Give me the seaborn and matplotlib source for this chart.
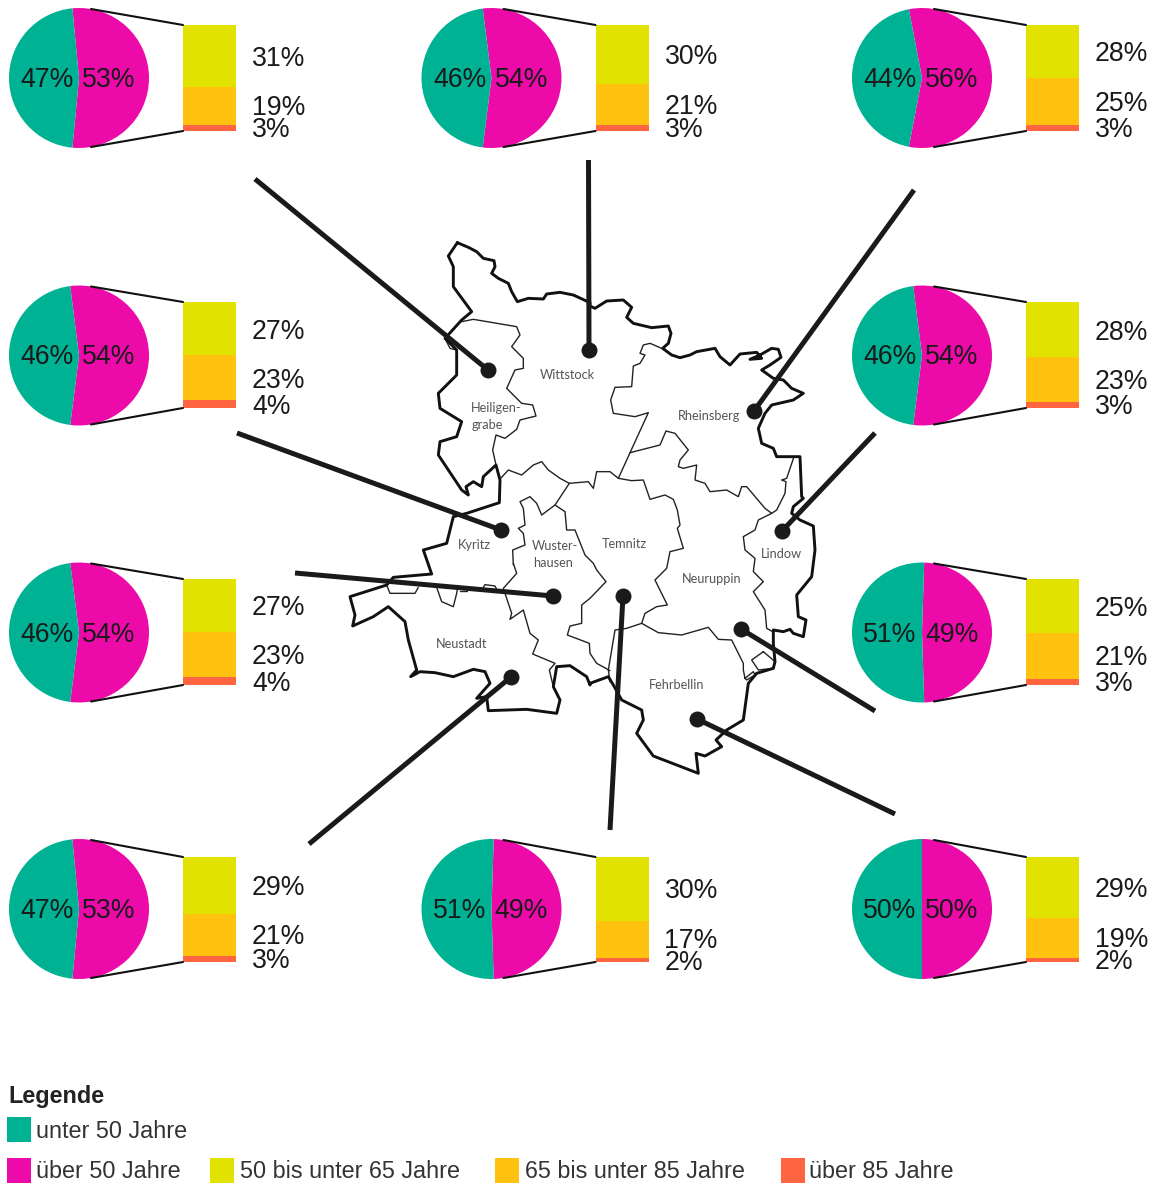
import matplotlib
matplotlib.use("Agg")
import matplotlib.pyplot as plt
from matplotlib.patches import Rectangle
import seaborn as sns

sns.set_theme(style="white")
plt.rcParams["font.family"] = ["Liberation Sans", "DejaVu Sans"]

W, H, DPI = 1154, 1184, 100

# Share of population per municipality, in percent
regions = ["Heiligengrabe", "Wittstock", "Rheinsberg",
           "Kyritz", "Lindow",
           "Wusterhausen", "Neuruppin",
           "Neustadt", "Temnitz", "Fehrbellin"]
under_50 = [47, 46, 44, 46, 46, 46, 51, 47, 51, 50]
over_50 = [53, 54, 56, 54, 54, 54, 49, 53, 49, 50]
age_50_65 = [31, 30, 28, 27, 28, 27, 25, 29, 30, 29]
age_65_85 = [19, 21, 25, 23, 23, 23, 21, 21, 17, 19]
age_85_up = [3, 3, 3, 4, 3, 4, 3, 3, 2, 2]

legend_labels = ["unter 50 Jahre", "über 50 Jahre", "50 bis unter 65 Jahre",
                 "65 bis unter 85 Jahre", "über 85 Jahre"]
colors = sns.color_palette(["#00B294", "#EC0AA8", "#E2E200", "#FFC20E", "#FF6540"])
TEAL, MAGENTA, YELLOW, ORANGE, RED = colors

# Panel layout: pie centre, vertical span of the bar, label rows
pie_centres = [(79, 78), (491.5, 78), (922, 78),
               (79, 355.5), (922, 355.5),
               (79, 632.5), (922, 632.5),
               (79, 909), (491.5, 909), (922, 909)]
bar_spans = [(25, 131), (25, 131), (25, 131),
             (302, 408), (302, 408),
             (579, 685), (579, 685),
             (857, 962), (857, 962), (857, 962)]
label_rows = [(57, 106, 128), (55, 105, 128), (52, 102, 128),
              (330, 379, 405), (331, 380, 405),
              (606, 655, 682), (607, 656, 682),
              (886, 935, 959), (889, 939, 961), (888, 938, 960)]

# Leader lines from each panel to its municipality
leaders = [((255, 179), (488, 370)), ((588.5, 160), (589, 350)), ((914, 190), (754, 411)),
           ((237, 433), (501, 530)), ((875, 433), (782, 531)),
           ((295, 573), (553, 596)), ((875, 711), (741, 629)),
           ((309, 844), (511, 677)), ((610, 830), (623, 596)), ((895, 814), (697, 719))]

place_labels = [("Wittstock", 567.5, 375), ("Heiligen-", 496, 408), ("grabe", 487, 425),
                ("Rheinsberg", 709, 416), ("Kyritz", 474, 545), ("Wuster-", 555, 546),
                ("hausen", 553.5, 563), ("Temnitz", 624.5, 544), ("Neuruppin", 712, 579),
                ("Lindow", 781, 554), ("Neustadt", 462, 644), ("Fehrbellin", 677, 685)]

# Map outlines, digitised at 3x on overlapping sheets
SHEET_A, SHEET_B, SHEET_C, SHEET_D = (340, 230), (590, 230), (340, 500), (590, 500)
SHEET_E = (490, 455)


def sheet(origin, pts):
    return [(origin[0] + x / 3, origin[1] + y / 3) for x, y in pts]


outer = (
    sheet(SHEET_A, [(352, 38), (385, 52), (410, 65), (430, 85), (462, 92), (465, 110), (455, 130),
                    (475, 145), (505, 160), (515, 185), (532, 215), (565, 205), (610, 207),
                    (620, 192), (660, 187), (700, 195), (750, 218)])
    + sheet(SHEET_B, [(0, 228), (15, 235), (50, 213), (100, 210), (125, 232), (110, 262), (130, 280),
                      (185, 293), (235, 288), (243, 310), (235, 340), (218, 355), (245, 375),
                      (270, 383), (300, 375), (320, 365), (375, 355), (390, 380), (420, 405),
                      (450, 372), (500, 367), (515, 385), (480, 388), (510, 375), (545, 355),
                      (565, 358), (573, 382), (540, 405), (515, 420), (550, 445), (580, 450),
                      (605, 475), (640, 490), (610, 510), (545, 525), (525, 550), (505, 595),
                      (515, 640), (550, 655), (560, 680), (630, 680), (635, 800), (640, 805),
                      (610, 830)])
    + sheet(SHEET_D, [(605, 40), (630, 60), (670, 78), (675, 150), (665, 230), (620, 285), (625, 350),
                      (648, 360), (640, 410), (610, 400), (600, 388), (580, 395), (550, 390),
                      (550, 430), (555, 485), (550, 505), (500, 520), (475, 550), (460, 660),
                      (410, 690), (378, 720), (395, 740), (345, 768), (318, 760), (325, 820),
                      (190, 768), (140, 700), (160, 660), (155, 630), (95, 600), (70, 555),
                      (55, 530), (0, 550)])
    + sheet(SHEET_C, [(750, 555), (740, 530), (690, 497), (650, 500), (640, 560), (660, 600),
                      (650, 640), (560, 628), (445, 632), (440, 590), (410, 595), (450, 550),
                      (435, 515), (400, 508), (340, 530), (285, 518), (240, 515), (212, 530),
                      (230, 510), (205, 420), (195, 365), (145, 320), (100, 350), (38, 378),
                      (45, 345), (30, 290), (140, 255), (160, 232), (275, 222), (250, 150),
                      (320, 130), (340, 50), (380, 40), (478, 8)])
    + sheet(SHEET_A, [(480, 750), (468, 705), (430, 740), (425, 770),
                      (400, 755), (378, 770), (385, 795), (365, 780), (295, 675), (300, 635),
                      (350, 620), (365, 575), (300, 535), (295, 490), (350, 435), (350, 360),
                      (315, 325), (365, 270), (395, 245), (340, 170), (340, 110), (325, 78),
                      (352, 38)])
)

inner = [
    # Heiligengrabe
    sheet(SHEET_A, [(365, 275), (400, 268), (530, 290), (540, 315), (515, 350), (550, 385), (550, 415),
                    (525, 420), (500, 475), (545, 520), (578, 525), (588, 558), (540, 570),
                    (530, 598), (495, 625), (468, 615), (458, 660), (468, 705)]),
    sheet(SHEET_A, [(315, 325), (330, 355), (350, 360)]),
    # Kyritz, Temnitz and Rheinsberg edges running east
    sheet(SHEET_E, [(32, 70), (55, 45), (95, 60), (130, 30), (155, 20), (175, 45), (210, 70), (238, 85),
                    (295, 80), (310, 100), (320, 50), (360, 50), (385, 70)])
    + sheet(SHEET_B, [(125, 752), (160, 750), (180, 808),
                      (225, 795), (250, 808), (262, 840)])
    + sheet(SHEET_D, [(270, 75), (262, 85), (280, 145), (240, 155), (230, 205), (195, 240), (232, 315),
                      (200, 320), (165, 340), (155, 370), (110, 385), (75, 390), (55, 510),
                      (60, 545)]),
    # Kyritz / Wusterhausen
    sheet(SHEET_E, [(70, 330), (68, 285), (105, 270), (100, 235), (85, 220), (105, 210), (100, 160),
                    (90, 140), (120, 125), (140, 145), (155, 180), (195, 150), (238, 85)]),
    sheet(SHEET_C, [(520, 190), (530, 220), (490, 265), (515, 340), (510, 358), (550, 330), (570, 400),
                    (595, 420), (578, 462), (645, 490), (628, 510), (640, 560)]),
    # Wusterhausen / Temnitz
    sheet(SHEET_E, [(195, 150), (225, 170), (230, 225), (255, 225), (285, 300), (310, 325)])
    + sheet(SHEET_D, [(20, 210), (48, 245), (0, 295)])
    + sheet(SHEET_C, [(725, 315), (725, 370), (690, 378), (682, 405), (748, 430)])
    + sheet(SHEET_D, [(0, 460), (20, 490), (60, 512)]),
    # Rheinsberg west and the straight diagonal
    sheet(SHEET_B, [(215, 355), (180, 340), (160, 345), (150, 370), (165, 375), (150, 400), (130, 408),
                    (125, 470), (75, 472), (62, 510), (70, 550), (135, 560), (175, 548), (85, 745)]),
    # Neuruppin north edge
    sheet(SHEET_B, [(120, 668), (210, 645), (228, 603), (255, 610), (295, 660), (270, 690), (265, 710),
                    (280, 715), (320, 705), (315, 750), (345, 760), (360, 785), (410, 780),
                    (445, 800), (455, 770), (470, 770), (525, 835)])
    + sheet(SHEET_D, [(545, 40), (505, 60), (495, 90), (460, 110), (465, 150), (495, 175), (490, 215),
                      (520, 245), (490, 275), (525, 330), (530, 385), (548, 395)]),
    sheet(SHEET_B, [(612, 680), (590, 745), (575, 750), (588, 755), (585, 790), (560, 840)])
    + sheet(SHEET_D, [(545, 40)]),
    # Neuruppin / Fehrbellin
    sheet(SHEET_D, [(155, 370), (205, 398), (275, 405), (355, 382), (385, 418), (425, 420), (460, 490),
                    (460, 510), (465, 535), (490, 515), (495, 525), (470, 540), (465, 535)]),
    sheet(SHEET_D, [(520, 455), (485, 480), (505, 510), (550, 505), (555, 485), (520, 455)]),
    # Small enclaves along the Kyritz / Neustadt edge
    sheet(SHEET_C, [(140, 255), (150, 280), (225, 280), (235, 262)]),
    sheet(SHEET_C, [(290, 262), (305, 305), (340, 320), (350, 280), (352, 268)]),
    sheet(SHEET_C, [(360, 272), (380, 272)]),
    sheet(SHEET_C, [(430, 262), (435, 254), (465, 258), (470, 268)]),
]

fig = plt.figure(figsize=(W / DPI, H / DPI), dpi=DPI, facecolor="white")
canvas = fig.add_axes([0, 0, 1, 1], zorder=5)
canvas.set_xlim(0, W)
canvas.set_ylim(H, 0)
canvas.axis("off")
canvas.patch.set_alpha(0)


def panel_axes(left, top, right, bottom):
    return fig.add_axes([left / W, 1 - bottom / H, (right - left) / W, (bottom - top) / H], zorder=1)


# Map
canvas.plot(*zip(*outer), color="#111111", lw=2.1, solid_joinstyle="round", zorder=2)
for path in inner:
    canvas.plot(*zip(*path), color="#222222", lw=1.0, solid_joinstyle="round", zorder=1)
for text, x, y in place_labels:
    canvas.text(x, y, text, ha="center", va="center", color="#555555",
                fontsize=9.2, family=["Lato", "DejaVu Sans"], zorder=3)

# Pies, bars and their labels
for i, region in enumerate(regions):
    cx, cy = pie_centres[i]
    top, bottom = bar_spans[i]
    radius = 70

    pie_ax = panel_axes(cx - radius, cy - radius, cx + radius, cy + radius)
    pie_ax.pie([over_50[i], under_50[i]], colors=[MAGENTA, TEAL], radius=1,
               startangle=-over_50[i] * 1.8, wedgeprops={"linewidth": 0})
    pie_ax.set_xlim(-1, 1)
    pie_ax.set_ylim(-1, 1)

    bar_ax = panel_axes(cx + 104, top, cx + 157, bottom)
    stack = [(age_85_up[i], RED), (age_65_85[i], ORANGE), (age_50_65[i], YELLOW)]
    base = 0
    for value, colour in stack:
        sns.barplot(x=[region], y=[value], bottom=base, width=1, color=colour,
                    saturation=1, linewidth=0, ax=bar_ax)
        base += value
    bar_ax.set_xlim(-0.5, 0.5)
    bar_ax.set_ylim(0, base)
    bar_ax.axis("off")

    canvas.text(cx - 32, cy + 2, f"{under_50[i]}%", ha="center", va="center",
                fontsize=19.2, color="#1a1a1a")
    canvas.text(cx + 30, cy + 2, f"{over_50[i]}%", ha="center", va="center",
                fontsize=19.2, color="#1a1a1a")

    canvas.plot([cx + 12, cx + 104], [cy - radius + 1, top], color="#111111", lw=1.5, zorder=2)
    canvas.plot([cx + 12, cx + 104], [cy + radius - 1, bottom], color="#111111", lw=1.5, zorder=2)

    values = [age_50_65[i], age_65_85[i], age_85_up[i]]
    for value, y in zip(values, label_rows[i]):
        canvas.text(cx + 173, y + 2, f"{value}%", ha="left", va="center",
                    fontsize=19.2, color="#1a1a1a")

# Leader lines with their end dots
for start, end in leaders:
    canvas.plot([start[0], end[0]], [start[1], end[1]], color="#1a1a1a", lw=3.6,
                solid_capstyle="butt", zorder=4)
    canvas.plot(*end, "o", color="#1a1a1a", ms=11.5, mew=0, zorder=4)

# Legend
canvas.text(8, 1097, "Legende", ha="left", va="center", fontsize=16.8,
            fontweight="bold", color="#222222")
legend_rows = [(7, 1117, 36, TEAL, 1131), (7, 1158, 36, MAGENTA, 1171), (210, 1158, 240, YELLOW, 1171),
               (495, 1158, 525, ORANGE, 1171), (781, 1158, 809, RED, 1171)]
for label, (sx, sy, tx, colour, ty) in zip(legend_labels, legend_rows):
    canvas.add_patch(Rectangle((sx, sy), 24, 24.5, facecolor=colour, edgecolor="none"))
    canvas.text(tx, ty, label, ha="left", va="center", fontsize=16.8, color="#333333")

fig.savefig("out.png", dpi=DPI, facecolor="white")
